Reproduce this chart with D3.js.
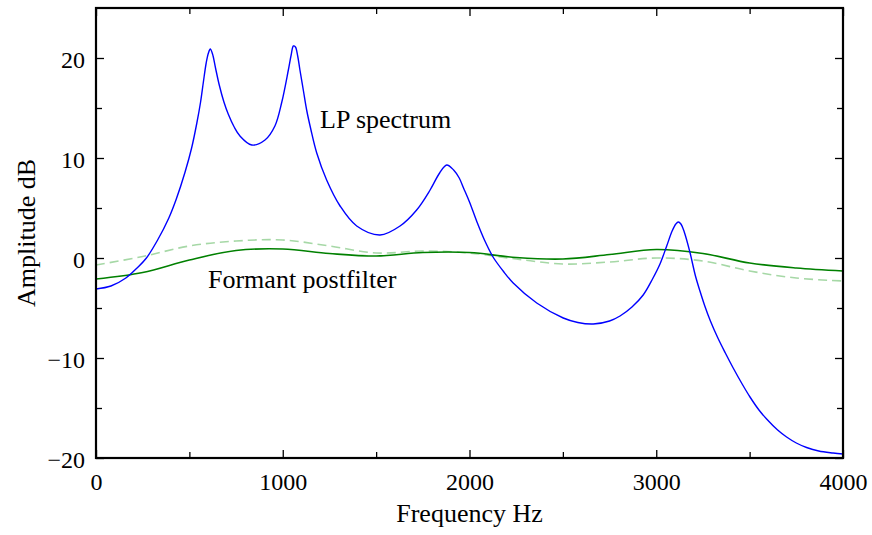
<!DOCTYPE html>
<html>
<head>
<meta charset="utf-8">
<script src="https://cdn.jsdelivr.net/npm/d3@7"></script>
<style>
  body { margin: 0; background: #fff; }
  svg text { font-family: "Liberation Serif", "Times New Roman", serif; fill: #000; }
</style>
</head>
<body>
<script>
// LP spectrum (blue): frequency Hz / amplitude dB
const lpFreq = [0, 80, 160, 220, 270, 330, 390, 430, 477, 512, 540, 560, 575, 590, 602, 612, 624, 640, 660, 685,
  708, 740, 771, 834, 905, 958, 995, 1030, 1045, 1057, 1068, 1080, 1092, 1110, 1128, 1150, 1182, 1235, 1307,
  1396, 1521, 1628, 1717, 1789, 1840, 1878, 1915, 1945, 1968, 2000, 2040, 2080, 2126, 2180, 2234, 2360, 2502,
  2580, 2663, 2750, 2806, 2870, 2930, 2980, 3020, 3056, 3085, 3105, 3118, 3132, 3150, 3180, 3210, 3234, 3260,
  3290, 3330, 3370, 3412, 3460, 3502, 3550, 3591, 3650, 3698, 3750, 3805, 3870, 3947, 4000];
const lpDb = [-3.1, -2.8, -2.0, -1.0, 0.0, 1.8, 4.0, 5.9, 8.6, 11.0, 13.5, 15.6, 17.6, 19.5, 20.5, 20.9, 20.4, 19.0, 17.3, 15.6,
  14.4, 13.1, 12.2, 11.3, 11.8, 13.2, 15.6, 18.8, 20.3, 21.2, 21.1, 20.2, 18.8, 16.8, 14.8, 12.9, 10.5, 7.8, 5.2,
  3.2, 2.3, 3.2, 4.8, 6.8, 8.5, 9.3, 8.8, 8.0, 7.0, 5.6, 3.6, 1.8, 0.1, -1.3, -2.5, -4.5, -6.0,
  -6.45, -6.6, -6.3, -5.8, -4.9, -3.7, -2.1, -0.6, 1.2, 2.7, 3.4, 3.6, 3.4, 2.6, 0.6, -1.8, -3.3, -4.8,
  -6.3, -8.0, -9.5, -11.0, -12.6, -13.9, -15.2, -16.1, -17.2, -17.9, -18.5, -18.95, -19.3, -19.5, -19.6];

// formant postfilter (solid) and the light dashed curve, on a 250 Hz grid
const pfFreq = [0, 250, 500, 750, 1000, 1250, 1500, 1750, 2000, 2250, 2500, 2750, 3000, 3250, 3500, 3750, 4000];
const pfDb = [-2.1, -1.45, -0.2, 0.75, 0.9, 0.45, 0.2, 0.55, 0.55, 0.05, -0.1, 0.35, 0.85, 0.45, -0.5, -1.0, -1.3];
const dashDb = [-0.7, 0.15, 1.2, 1.7, 1.8, 1.2, 0.5, 0.7, 0.5, -0.1, -0.6, -0.4, 0.0, -0.3, -1.3, -2.0, -2.3];

const xTicks = [0, 1000, 2000, 3000, 4000];
const xMinor = [500, 1500, 2500, 3500];
const yTicks = [-20, -10, 0, 10, 20];
const yMinor = [-15, -5, 5, 15];

const width = 872, height = 535;
const margin = { left: 96, right: 843, top: 8, bottom: 458 };   // plot box edges in px

const svg = d3.select('body').append('svg')
  .attr('width', width)
  .attr('height', height);

const x = d3.scaleLinear().domain([0, 4000]).range([margin.left, margin.right]);
const y = d3.scaleLinear().domain([-20, 25]).range([margin.bottom, margin.top]);

const line = d3.line()
  .x(d => x(d[0]))
  .y(d => y(d[1]))
  .curve(d3.curveCatmullRom.alpha(0.5));

let plot = svg.append('g');

plot.append('path')
  .datum(pfFreq.map((f, i) => [f, dashDb[i]]))
  .attr('d', line)
  .attr('fill', 'none')
  .attr('stroke', '#a6d8a6')
  .attr('stroke-width', 1.6)
  .attr('stroke-dasharray', '9,5');

plot.append('path')
  .datum(pfFreq.map((f, i) => [f, pfDb[i]]))
  .attr('d', line)
  .attr('fill', 'none')
  .attr('stroke', '#008000')
  .attr('stroke-width', 1.6);

plot.append('path')
  .datum(lpFreq.map((f, i) => [f, lpDb[i]]))
  .attr('d', line)
  .attr('fill', 'none')
  .attr('stroke', '#0000ff')
  .attr('stroke-width', 1.4);

// axes, ticks pointing inward
let axisStyle = (g) => {
  g.select('.domain').remove();
  g.selectAll('line').attr('stroke', '#000').attr('stroke-width', 1.3);
  g.selectAll('text').style('font-size', '24px').attr('fill', '#000');
};

svg.append('g')
  .attr('transform', 'translate(0,' + margin.bottom + ')')
  .call(d3.axisBottom(x).tickValues(xTicks).tickSize(-8).tickFormat(d3.format('d')))
  .call(axisStyle)
  .call(g => g.selectAll('text').attr('y', 32).attr('dy', null));
svg.append('g')
  .attr('transform', 'translate(0,' + margin.bottom + ')')
  .call(d3.axisBottom(x).tickValues(xMinor).tickSize(-6).tickFormat(''))
  .call(axisStyle);
svg.append('g')
  .attr('transform', 'translate(0,' + margin.top + ')')
  .call(d3.axisTop(x).tickValues(xTicks).tickSize(-8).tickFormat(''))
  .call(axisStyle);
svg.append('g')
  .attr('transform', 'translate(0,' + margin.top + ')')
  .call(d3.axisTop(x).tickValues(xMinor).tickSize(-6).tickFormat(''))
  .call(axisStyle);

svg.append('g')
  .attr('transform', 'translate(' + margin.left + ',0)')
  .call(d3.axisLeft(y).tickValues(yTicks).tickSize(-8).tickFormat(d3.format('d')))
  .call(axisStyle)
  .call(g => g.selectAll('text').attr('x', -11).attr('dy', '0.38em'));
svg.append('g')
  .attr('transform', 'translate(' + margin.left + ',0)')
  .call(d3.axisLeft(y).tickValues(yMinor).tickSize(-6).tickFormat(''))
  .call(axisStyle);
svg.append('g')
  .attr('transform', 'translate(' + margin.right + ',0)')
  .call(d3.axisRight(y).tickValues(yTicks).tickSize(-8).tickFormat(''))
  .call(axisStyle);
svg.append('g')
  .attr('transform', 'translate(' + margin.right + ',0)')
  .call(d3.axisRight(y).tickValues(yMinor).tickSize(-6).tickFormat(''))
  .call(axisStyle);

// frame
svg.append('rect')
  .attr('x', margin.left)
  .attr('y', margin.top)
  .attr('width', margin.right - margin.left)
  .attr('height', margin.bottom - margin.top)
  .attr('fill', 'none')
  .attr('stroke', '#000')
  .attr('stroke-width', 2.2);

// labels
svg.append('text')
  .attr('x', (margin.left + margin.right) / 2)
  .attr('y', 522)
  .attr('text-anchor', 'middle')
  .style('font-size', '26px')
  .text('Frequency Hz');

svg.append('text')
  .attr('transform', 'translate(35,' + ((margin.top + margin.bottom) / 2) + ') rotate(-90)')
  .attr('text-anchor', 'middle')
  .style('font-size', '26px')
  .text('Amplitude dB');

svg.append('text')
  .attr('x', 320)
  .attr('y', 128)
  .style('font-size', '26px')
  .text('LP spectrum');

svg.append('text')
  .attr('x', 208)
  .attr('y', 288)
  .style('font-size', '26px')
  .text('Formant postfilter');
</script>
</body>
</html>
